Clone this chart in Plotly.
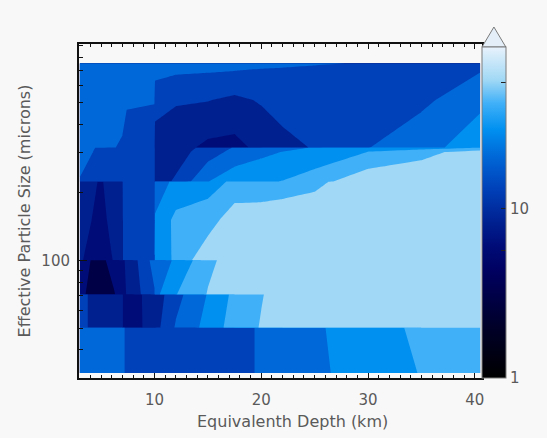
import numpy as np
import plotly.graph_objects as go

# ---------------- data ----------------
# Equivalent depth (km) of the grid columns
depth_km = [3.0, 5.0, 6.2, 7.0, 7.4, 10.0, 10.05, 12.0, 15.0, 17.5, 20.0, 22.0, 25.0, 30.0, 35.0, 40.5]

# Effective particle size (microns) of the grid rows, from top to bottom
size_um = [750, 515, 317, 316, 303, 224, 223.5, 151, 100.3, 100.0, 70.6, 70.4, 50.3, 50.1, 31.6]

# Colour-bar quantity at every grid node (rows follow size_um, columns follow depth_km)
row_750 = [17.2, 17.2, 17.2, 17.2, 17.2, 17.2, 17.4, 16.6, 16.1, 16.0, 15.0, 14.5, 14.3, 14.0, 13.1, 12.5]
row_515 = [17.2, 17.2, 17.2, 17.2, 14.7, 14.4, 11.2, 9.9, 9.7, 8.8, 9.9, 11.6, 11.6, 11.6, 12.6, 20.3]
row_317 = [17.2, 15.9, 14.4, 13.2, 12.1, 11.6, 7.9, 7.5, 5.9, 5.7, 7.2, 8.2, 9.9, 13.9, 19.9, 22.5]
row_316 = [15.9, 13.5, 12.6, 12.1, 12.1, 11.6, 7.9, 7.9, 10.7, 14.6, 16.6, 17.9, 21.7, 27.5, 25.8, 31.5]
row_303 = [15.6, 13.3, 12.3, 11.8, 11.8, 11.6, 7.9, 8.0, 11.7, 15.9, 19.0, 21.1, 22.6, 31.1, 39.3, 57.4]
row_224 = [13.9, 12.1, 11.6, 11.6, 11.6, 11.6, 7.9, 10.1, 20.7, 27.5, 29.2, 31.3, 39.0, 61.1, 67.6, 62.5]
row_223 = [7.9, 6.2, 7.9, 9.5, 10.7, 11.6, 17.2, 22.8, 26.4, 33.3, 36.3, 37.6, 41.4, 60.8, 57.8, 57.8]
row_151 = [7.9, 5.5, 7.8, 9.4, 10.7, 11.6, 21.7, 34.4, 37.6, 58.7, 55.8, 57.8, 60.1, 60.1, 60.1, 60.1]
row_100b = [6.7, 5.3, 6.6, 9.4, 10.7, 11.6, 22.6, 33.6, 61.5, 60.1, 60.1, 60.1, 60.1, 60.1, 60.1, 60.1]
row_100a = [4.9, 3.9, 5.3, 6.2, 6.7, 16.6, 17.9, 21.7, 42.3, 53.2, 57.8, 57.8, 57.8, 57.8, 57.8, 57.8]
row_71b = [4.7, 3.6, 4.2, 5.5, 6.6, 13.6, 18.6, 30.4, 46.6, 57.8, 57.8, 57.8, 57.8, 57.8, 57.8, 57.8]
row_71a = [10.7, 7.9, 7.9, 6.6, 5.3, 7.6, 7.7, 12.4, 21.4, 34.1, 44.8, 52.9, 57.8, 57.8, 57.8, 57.8]
row_50b = [10.7, 7.9, 7.9, 6.6, 5.3, 7.5, 8.2, 14.7, 23.8, 37.0, 46.8, 57.8, 57.8, 57.8, 57.8, 57.8]
row_50a = [17.2, 17.2, 17.2, 15.9, 12.6, 11.6, 11.6, 11.6, 11.6, 11.6, 15.1, 17.2, 19.2, 29.1, 31.8, 37.6]
row_32 = [17.2, 17.2, 17.2, 15.9, 12.6, 11.6, 11.6, 11.6, 11.6, 11.6, 15.1, 17.2, 19.2, 25.4, 31.4, 37.6]

value_rows = [row_750, row_515, row_317, row_316, row_303, row_224, row_223, row_151,
              row_100b, row_100a, row_71b, row_71a, row_50b, row_50a, row_32]

# contour levels (log10 of the colour-bar quantity)
level_start, level_end, level_step = 0.64, 1.661, 0.17
fill_colors = ["#000046", "#000c78", "#002090", "#0040b8",
               "#0068d8", "#0090f0", "#40b0f8", "#a0d8f5"]

# colour bar (log10 of quantity, 1 .. ~90)
bar_min, bar_max = 0.0, 1.95
bar_stops = [(0.00, "#000000"), (0.15, "#000028"), (0.32, "#00005f"), (0.40, "#000c78"),
             (0.47, "#002090"), (0.57, "#0040b8"), (0.67, "#0068d8"), (0.75, "#0090f0"),
             (0.83, "#40b0f8"), (0.90, "#a0d8f5"), (1.00, "#e8f2fc")]
bar_tickvals = [0.0, 0.753, 1.0, 1.74]
bar_ticktext = ["1", "", "10", ""]

y_major = [100]
y_minor = [30, 40, 50, 60, 70, 80, 90, 200, 300, 400, 500, 600, 700, 800, 900]

# ---------------- figure ----------------
ys = size_um[::-1]
zs = np.log10(np.array(value_rows[::-1], dtype=float))

n_fill = len(fill_colors)
fill_scale = [[i / (n_fill - 1), c] for i, c in enumerate(fill_colors)]

fig = go.Figure()
fig.add_trace(go.Contour(
    x=depth_km, y=ys, z=zs,
    contours=dict(start=level_start, end=level_end, size=level_step,
                  coloring="fill", showlines=False),
    line=dict(width=0, smoothing=0),
    colorscale=fill_scale, showscale=False, hoverinfo="skip",
))

W, H = 547, 438
L, R, T, B = 79, 62, 44, 60
pw, ph = W - L - R, H - T - B
bar_thick = 24
bar_len = 331

fig.add_trace(go.Scatter(
    x=[depth_km[0]], y=[size_um[0]], mode="markers", hoverinfo="skip", showlegend=False,
    marker=dict(size=1, opacity=0, color=[bar_min], cmin=bar_min, cmax=bar_max,
                colorscale=[[s, c] for s, c in bar_stops], showscale=True,
                colorbar=dict(x=1.0, xanchor="left", xpad=0, y=0, yanchor="bottom", ypad=0,
                              len=bar_len, lenmode="pixels", thickness=bar_thick,
                              thicknessmode="pixels", outlinewidth=1, outlinecolor="#7a7a7a",
                              borderwidth=0, tickmode="array", tickvals=bar_tickvals,
                              ticktext=bar_ticktext, ticks="inside", ticklen=5,
                              tickcolor="#222222",
                              tickfont=dict(family="DejaVu Sans", size=15, color="#5a5a5a"))),
))

font = dict(family="DejaVu Sans", size=15, color="#5a5a5a")

fig.update_xaxes(range=[2.93, 40.67], tickmode="linear", tick0=0, dtick=10,
                 ticks="inside", ticklen=5, tickwidth=1, tickcolor="#111111",
                 minor=dict(dtick=1, tick0=0, ticks="inside", ticklen=3, tickcolor="#111111"),
                 showline=True, linecolor="#111111", linewidth=2, mirror="ticks",
                 showgrid=False, zeroline=False, tickfont=font, ticklabelstandoff=7)
fig.update_yaxes(type="log", range=[np.log10(30), 2.961], tickmode="array",
                 tickvals=y_major, ticktext=[str(v) for v in y_major],
                 ticks="inside", ticklen=8, tickwidth=1, tickcolor="#111111",
                 minor=dict(tickmode="array", tickvals=y_minor, ticks="inside", ticklen=4,
                            tickcolor="#111111"),
                 showline=True, linecolor="#111111", linewidth=2, mirror=True,
                 showgrid=False, zeroline=False, tickfont=font, ticklabelstandoff=4)

# arrow-head (extension triangle) on top of the colour bar
bx0 = 1.0
bx1 = 1.0 + bar_thick / pw
by0 = bar_len / ph
by1 = (H - B - 27) / ph
fig.add_shape(type="path", xref="paper", yref="paper",
              path=f"M {bx0},{by0} L {bx1},{by0} L {(bx0 + bx1) / 2},{by1} Z",
              fillcolor="#e4eef8", line=dict(color="#7a7a7a", width=1))

title_font = dict(family="DejaVu Sans", size=16, color="#5a5a5a")
fig.add_annotation(text="Equivalenth Depth (km)", xref="paper", yref="paper",
                   x=(294.5 - L) / pw, y=-(421 - (H - B)) / ph, xanchor="center",
                   yanchor="middle", showarrow=False, font=title_font)
fig.add_annotation(text="Effective Particle Size (microns)", xref="paper", yref="paper",
                   x=(24 - L) / pw, y=((H - B) - 211) / ph, xanchor="center",
                   yanchor="middle", showarrow=False, textangle=-90, font=title_font)

fig.update_layout(width=W, height=H, margin=dict(l=L, r=R, t=T, b=B, pad=0),
                  paper_bgcolor="#f8f8f8", plot_bgcolor="#f8f8f8", showlegend=False)

fig.write_html("out.html", config={"displayModeBar": False},
               post_script="document.body.style.margin='0';"
                           "document.body.style.background='#f8f8f8';")
